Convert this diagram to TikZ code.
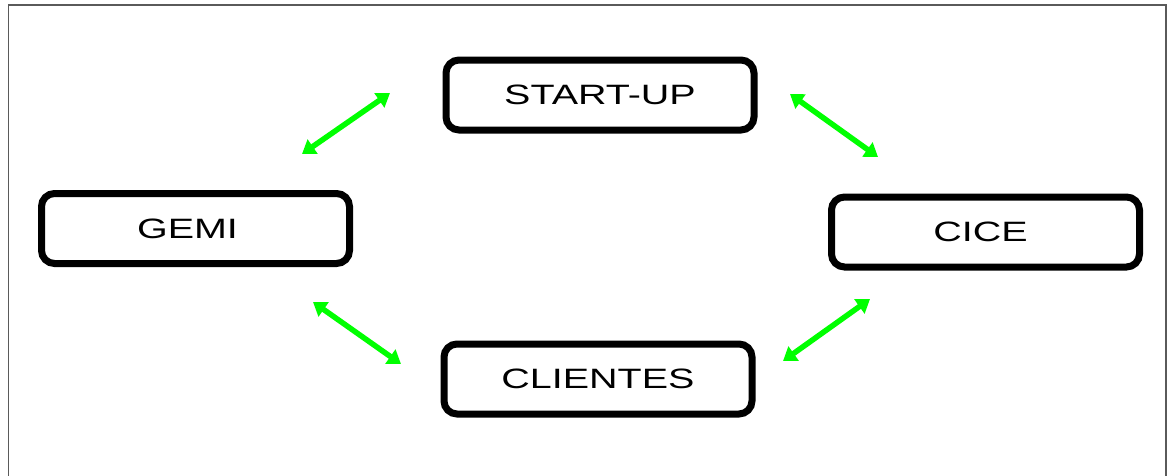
\documentclass[tikz,border=0pt]{standalone}
\usepackage{fontspec}
\usetikzlibrary{arrows.meta}
\newfontfamily\boxfont[FakeStretch=1.41]{Liberation Sans}
\definecolor{linkgreen}{RGB}{0,255,0}
\definecolor{framegray}{RGB}{90,90,90}
\tikzset{
  unitbox/.style={draw=black, line width=7pt, rounded corners=13pt,
    minimum width=308pt, minimum height=70pt, inner sep=0pt,
    font=\boxfont\fontsize{28pt}{28pt}\selectfont},
  link/.style={draw=linkgreen, line width=5.5pt,
    {Triangle[length=13pt,width=17pt]}-{Triangle[length=13pt,width=17pt]}}
}
\begin{document}
\begin{tikzpicture}[x=1pt,y=-1pt]
  \useasboundingbox (0,0) rectangle (1170,475);
  % outer frame (bottom edge runs off the page)
  \draw[framegray, line width=1.5pt] (8.5,490) -- (8.5,5) -- (1166,5) -- (1166,490);

  % boxes
  \node[unitbox] (start) at (600,95) {START-UP};
  \node[unitbox] (gemi) at (195.5,228.5) {GEMI\kern16pt\relax};
  \node[unitbox] (cice) at (985.5,232) {CICE\kern10pt\relax};
  \node[unitbox] (clientes) at (598,379) {CLIENTES};

  % arrow end points
  \coordinate (gs1) at (302,154);
  \coordinate (gs2) at (390,93);
  \coordinate (sc1) at (790,94);
  \coordinate (sc2) at (878,157);
  \coordinate (gc1) at (313,302);
  \coordinate (gc2) at (401,364);
  \coordinate (cc1) at (783,361);
  \coordinate (cc2) at (870,299);

  % two-way links
  \draw[link] (gs1) -- (gs2);
  \draw[link] (sc1) -- (sc2);
  \draw[link] (gc1) -- (gc2);
  \draw[link] (cc1) -- (cc2);
\end{tikzpicture}
\end{document}
